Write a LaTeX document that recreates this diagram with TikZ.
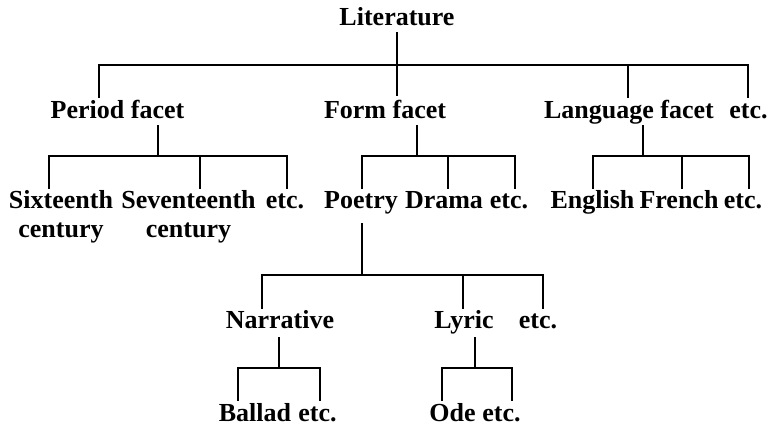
\documentclass[tikz,border=0pt]{standalone}
\usepackage{fontspec}
\setmainfont{Liberation Serif}
\begin{document}
\begin{tikzpicture}[x=1pt,y=-1pt,
  lbl/.style={inner sep=0pt,anchor=base,font=\fontsize{26}{28}\selectfont\bfseries},
  link/.style={line width=2.2pt,line cap=rect}]
\useasboundingbox[fill=white] (0,0) rectangle (777,426);
% labels
\node[lbl] (lit) at (397,25) {Literature};
\node[lbl] (period) at (117.5,118) {Period facet};
\node[lbl] (form) at (385,118) {Form facet};
\node[lbl] (lang) at (629,118) {Language facet};
\node[lbl] (etc1) at (748.5,118) {etc.};
\node[lbl,align=center] (sixt) at (61,237) {Sixteenth\\[1pt]century};
\node[lbl,align=center] (sevt) at (188.5,237) {Seventeenth\\[1pt]century};
\node[lbl] (etc2) at (285,208) {etc.};
\node[lbl] (poetry) at (361,208) {Poetry};
\node[lbl] (drama) at (444,208) {Drama};
\node[lbl] (etc3) at (509,208) {etc.};
\node[lbl] (english) at (592.5,208) {English};
\node[lbl] (french) at (679,208) {French};
\node[lbl] (etc4) at (743,208) {etc.};
\node[lbl] (narr) at (280,328) {Narrative};
\node[lbl] (lyric) at (464,328) {Lyric};
\node[lbl] (etc5) at (538,328) {etc.};
\node[lbl] (ballad) at (255,421) {Ballad};
\node[lbl] (etc6) at (317.5,421) {etc.};
\node[lbl] (ode) at (452.5,421) {Ode};
\node[lbl] (etc7) at (501.5,421) {etc.};
% junction coordinates
\coordinate (litS) at (397,33);
\coordinate (formT) at (397,95);
\coordinate (busAL) at (99,65);
\coordinate (busAR) at (748,65);
\coordinate (periodS) at (158,126);
\coordinate (formS) at (417,126);
\coordinate (langS) at (643,126);
\coordinate (poetryS) at (362,224);
\coordinate (narrS) at (279,338);
\coordinate (lyricS) at (475,338);
% level 1
\draw[link] (litS) -- (formT);
\draw[link] (busAL) -- (busAR);
\draw[link] (busAL) -- (99,97);
\draw[link] (628,65) -- (628,97);
\draw[link] (busAR) -- (748,97);
% period facet
\draw[link] (periodS) -- (158,156);
\draw[link] (49,188) -- (49,156) -- (287,156) -- (287,188);
\draw[link] (200,156) -- (200,188);
% form facet
\draw[link] (formS) -- (417,156);
\draw[link] (362,188) -- (362,156) -- (515,156) -- (515,188);
\draw[link] (448,156) -- (448,188);
% language facet
\draw[link] (langS) -- (643,156);
\draw[link] (593,188) -- (593,156) -- (749,156) -- (749,188);
\draw[link] (682,156) -- (682,188);
% poetry
\draw[link] (poetryS) -- (362,275);
\draw[link] (262,308) -- (262,275) -- (543,275) -- (543,308);
\draw[link] (463,275) -- (463,308);
% narrative
\draw[link] (narrS) -- (279,368);
\draw[link] (238,400) -- (238,368) -- (320,368) -- (320,400);
% lyric
\draw[link] (lyricS) -- (475,368);
\draw[link] (442,400) -- (442,368) -- (512,368) -- (512,400);
\end{tikzpicture}
\end{document}
